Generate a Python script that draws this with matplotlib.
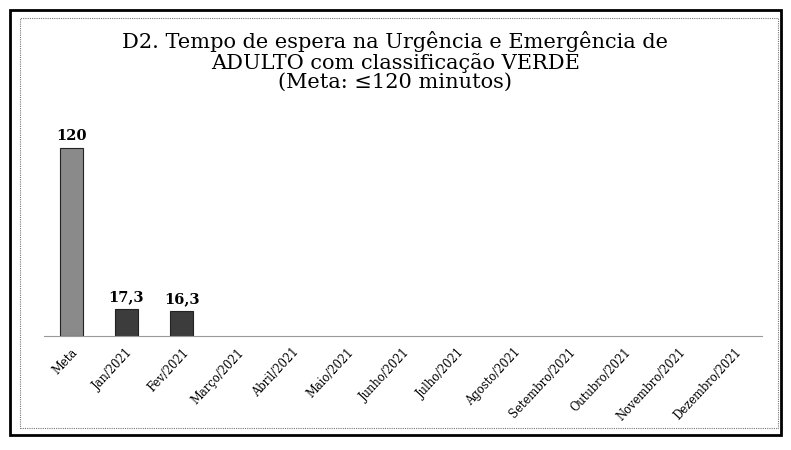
import matplotlib.pyplot as plt
import numpy as np
from matplotlib.patches import Rectangle

categorias = ['Meta', 'Jan/2021', 'Fev/2021', 'Março/2021', 'Abril/2021', 'Maio/2021',
              'Junho/2021', 'Julho/2021', 'Agosto/2021', 'Setembro/2021',
              'Outubro/2021', 'Novembro/2021', 'Dezembro/2021']
valores = [120, 17.3, 16.3]
rotulos = ['120', '17,3', '16,3']
cores = ['#8a8a8a', '#3c3c3c', '#3c3c3c']

plt.rcParams['font.family'] = ['DejaVu Serif']

fig = plt.figure(figsize=(7.91, 4.5), dpi=100)
fig.patch.set_facecolor('white')

# moldura externa e interna
fig.add_artist(Rectangle((0.013, 0.033), 0.974, 0.945, transform=fig.transFigure,
                         fill=False, lw=2.0, ec='black'))
fig.add_artist(Rectangle((0.025, 0.05), 0.958, 0.91, transform=fig.transFigure,
                         fill=False, lw=0.8, ec='#777777', ls=(0, (1, 1))))

ax = fig.add_axes([0.055, 0.253, 0.908, 0.52])
ind = np.arange(len(categorias))
ax.bar(ind[:len(valores)], valores, 0.42, color=cores, edgecolor='#222222', lw=0.8)
for i, v in enumerate(valores):
    ax.text(i, v + 3, rotulos[i], ha='center', va='bottom', fontsize=10.5, fontweight='bold')

ax.set_xlim(-0.5, len(categorias) - 0.5)
ax.set_ylim(0, 149)
ax.set_xticks(ind)
ax.set_xticklabels(categorias, rotation=47, ha='right', rotation_mode='anchor', fontsize=8.3)
ax.tick_params(axis='x', length=0, pad=7)
ax.set_yticks([])
for s in ['top', 'right', 'left']:
    ax.spines[s].set_visible(False)
ax.spines['bottom'].set_color('#999999')

fig.text(0.5, 0.93, 'D2. Tempo de espera na Urgência e Emergência de\n'
         'ADULTO com classificação VERDE\n(Meta: ≤120 minutos)',
         ha='center', va='top', fontsize=15, linespacing=1.02)

fig.savefig('out.png', dpi=100)
